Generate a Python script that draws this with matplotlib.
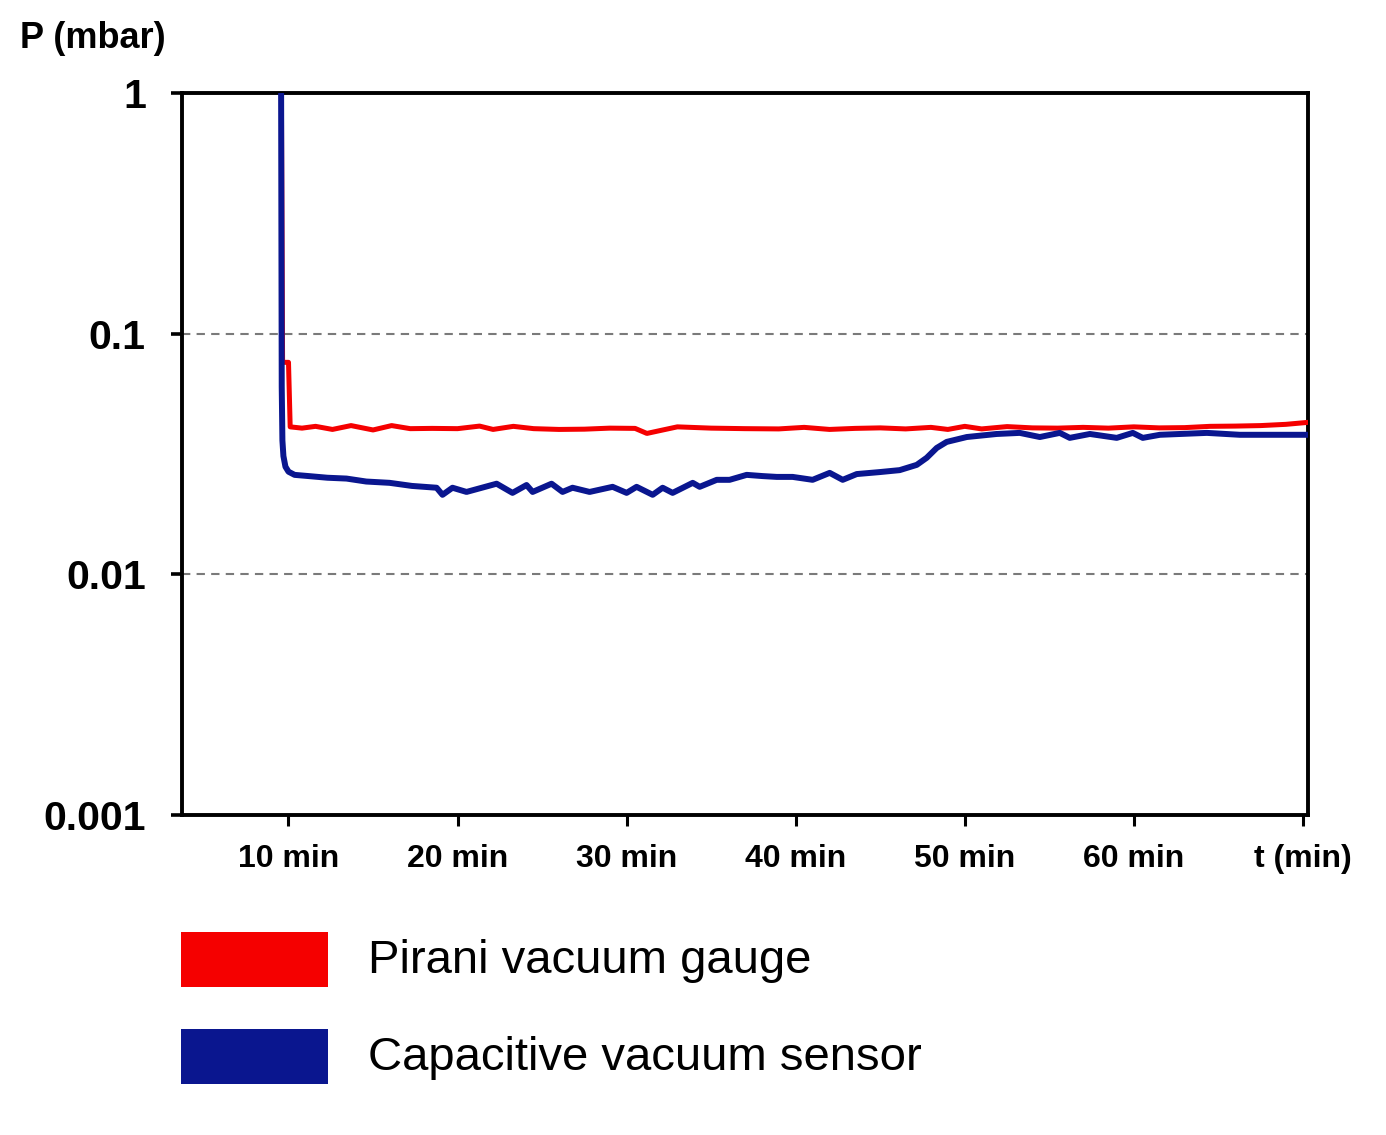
import matplotlib
matplotlib.use("Agg")
import matplotlib.pyplot as plt
from matplotlib.patches import Rectangle
from matplotlib.ticker import FixedLocator, NullLocator

plt.rcParams["font.family"] = ["Liberation Sans", "DejaVu Sans"]

# time (min) and pressure (mbar)
pirani_t = [9.55, 9.65, 10.0, 10.1, 10.8, 11.6, 12.6, 13.7, 15.0, 16.1, 17.2,
            18.5, 20.0, 21.3, 22.1, 23.3, 24.5, 26.0, 27.5, 29.0, 30.5, 31.2,
            32.0, 33.0, 35.0, 37.0, 39.0, 40.5, 42.0, 43.5, 45.0, 46.5, 48.0,
            49.0, 50.0, 51.0, 52.5, 54.0, 55.5, 57.0, 58.5, 60.0, 61.5, 63.0,
            64.5, 66.0, 67.5, 69.0, 70.3]
pirani_p = [3.0, 0.076, 0.076, 0.0410, 0.0405, 0.0412, 0.0400, 0.0415, 0.0398,
            0.0415, 0.0403, 0.0404, 0.0403, 0.0413, 0.0400, 0.0412, 0.0403,
            0.0400, 0.0401, 0.0405, 0.0404, 0.0385, 0.0396, 0.0410, 0.0405,
            0.0403, 0.0402, 0.0408, 0.0400, 0.0404, 0.0406, 0.0402, 0.0408,
            0.0400, 0.0412, 0.0402, 0.0411, 0.0406, 0.0405, 0.0408, 0.0405,
            0.0410, 0.0406, 0.0407, 0.0412, 0.0413, 0.0415, 0.0420, 0.0428]

capa_t = [9.55, 9.60, 9.64, 9.70, 9.82, 10.0, 10.36, 11.2, 12.3, 13.43, 14.6,
          15.98, 17.3, 18.76, 19.11, 19.70, 20.53, 22.31, 23.25, 24.08, 24.44,
          25.56, 26.21, 26.80, 27.81, 29.17, 30.0, 30.59, 31.54, 32.13, 32.72,
          33.91, 34.32, 35.33, 36.09, 37.10, 38.05, 38.88, 39.82, 41.0, 42.01,
          42.78, 43.61, 44.97, 46.15, 47.16, 47.75, 48.34, 48.93, 50.12, 51.89,
          53.25, 54.44, 55.62, 56.21, 57.40, 58.99, 59.94, 60.53, 61.54, 64.32,
          66.27, 70.24]
capa_p = [3.0, 0.060, 0.036, 0.0310, 0.0280, 0.0267, 0.0259, 0.0256, 0.0252,
          0.0250, 0.0243, 0.0240, 0.0233, 0.0229, 0.0214, 0.0229, 0.0220,
          0.0238, 0.0218, 0.0235, 0.0220, 0.0238, 0.0220, 0.0229, 0.0220,
          0.0231, 0.0218, 0.0231, 0.0214, 0.0229, 0.0218, 0.0240, 0.0231,
          0.0247, 0.0247, 0.0259, 0.0256, 0.0254, 0.0254, 0.0247, 0.0264,
          0.0247, 0.0261, 0.0266, 0.0271, 0.0285, 0.0305, 0.0335, 0.0355,
          0.0372, 0.0383, 0.0387, 0.0372, 0.0387, 0.0369, 0.0383, 0.0369,
          0.0387, 0.0369, 0.0380, 0.0387, 0.0380, 0.0380]

x_ticks = [10, 20, 30, 40, 50, 60, 70]
x_labels = ["10 min", "20 min", "30 min", "40 min", "50 min", "60 min", "t (min)"]
y_ticks = [0.001, 0.01, 0.1, 1]
y_labels = ["0.001", "0.01", "0.1", "1"]
legend_labels = ["Pirani vacuum gauge", "Capacitive vacuum sensor"]

RED = "#f50000"
BLUE = "#0a168f"

fig = plt.figure(figsize=(13.86, 11.35), dpi=100)
ax = fig.add_axes([0.1313, 0.2819, 0.8124, 0.6362])

ax.plot(pirani_t, pirani_p, color=RED, lw=3.6, solid_joinstyle="round", zorder=3)
ax.plot(capa_t, capa_p, color=BLUE, lw=4.3, solid_joinstyle="round", zorder=4)

ax.set_yscale("log")
ax.set_ylim(0.001, 1)
ax.set_xlim(3.7, 70.3)

ax.yaxis.set_major_locator(FixedLocator(y_ticks))
ax.yaxis.set_minor_locator(NullLocator())
ax.set_yticklabels(y_labels, fontweight="bold")
ax.set_xticks(x_ticks)
ax.set_xticklabels(x_labels, fontweight="bold")

for y in (0.01, 0.1):
    ax.axhline(y, color="#7a7a7a", lw=1.5, ls=(0, (4, 3)), zorder=1)

for s in ax.spines.values():
    s.set_linewidth(2.8)
ax.tick_params(axis="y", direction="out", length=8, width=2.6, pad=18, labelsize=29.5)
ax.tick_params(axis="x", direction="out", length=8, width=2.2, pad=13, labelsize=23)

fig.text(20 / 1386, 1 - 38 / 1135, "P (mbar)", fontsize=26, fontweight="bold",
         va="center", ha="left")

# legend drawn by hand
colors = [RED, BLUE]
rect_y = [1 - 987 / 1135, 1 - 1084 / 1135]
text_y = [1 - 961 / 1135, 1 - 1058 / 1135]
for c, ry, ty, lab in zip(colors, rect_y, text_y, legend_labels):
    fig.add_artist(Rectangle((181 / 1386, ry), 147 / 1386, 55 / 1135,
                             transform=fig.transFigure, color=c, lw=0))
    fig.text(368 / 1386, ty, lab, fontsize=34, va="center", ha="left")

plt.savefig("out.png", dpi=100)
plt.close()
